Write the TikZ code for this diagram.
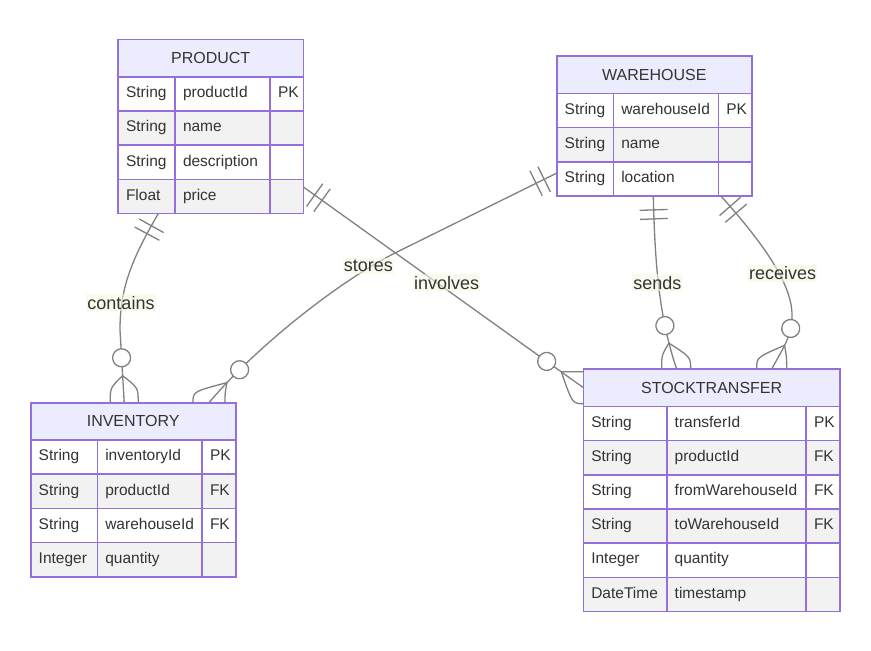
\documentclass[tikz,border=0pt]{standalone}
\usepackage{fontspec}
\setmainfont{Liberation Sans}
\usetikzlibrary{calc,decorations.markings}

\definecolor{erline}{HTML}{9370DB}
\definecolor{erhead}{HTML}{ECECFF}
\definecolor{row0}{HTML}{F2F2F2}
\definecolor{row1}{HTML}{FFFFFF}
\definecolor{txt}{HTML}{333333}
\definecolor{conn}{HTML}{808080}
\definecolor{lblbg}{HTML}{F3F8DF}

\tikzset{
  head/.style={draw=erline, fill=erhead, line width=1.6pt, outer sep=0pt, anchor=north west,
    minimum height=37.3pt, inner sep=0pt, text=txt, font=\fontsize{16}{19}\selectfont},
  cell/.style={draw=erline, line width=1.6pt, outer sep=0pt, anchor=north west,
    minimum height=34.2pt, text width=#1, align=left, inner xsep=8pt, inner ysep=0pt,
    text height=11pt, text depth=3.5pt, text=txt, font=\fontsize{15.5}{18}\selectfont},
  rel/.style={draw=conn, line width=1.3pt},
  lbl/.style={fill=lblbg, fill opacity=0.6, text opacity=1, text=txt, inner xsep=1pt,
    inner ysep=2pt, font=\fontsize{18}{21}\selectfont},
  exactlyone/.style={postaction={decorate, decoration={markings,
    mark=at position 14pt with {\draw[rel] (0pt,-14pt) -- (0pt,14pt);},
    mark=at position 23pt with {\draw[rel] (0pt,-14pt) -- (0pt,14pt);}}}},
  zeromany/.style={postaction={decorate, decoration={markings,
    mark=at position -45pt with {\draw[rel, fill=white] (0pt,0pt) circle (9pt);},
    mark=at position -27pt with {\coordinate (#1);}}}}
}

\begin{document}
\begin{tikzpicture}[x=1pt, y=-1pt]
  \useasboundingbox (0,0) rectangle (871,651);

  % PRODUCT
  \node[head, minimum width=185.3pt] (product) at (118,39.5) {PRODUCT};
  \foreach \ty/\nm/\ky [count=\i] in {String/productId/PK, String/name/{}, String/description/{}, Float/price/{}} {
    \pgfmathtruncatemacro\rw{mod(\i,2)}
    \node[cell=41pt, fill=row\rw] (pa\i) at (118,{76.8+34.2*(\i-1)}) {\ty};
    \node[cell=79pt, fill=row\rw] (pb\i) at (pa\i.north east) {\nm};
    \node[cell=17.3pt, fill=row\rw] (pc\i) at (pb\i.north east) {\ky};
  }

  % WAREHOUSE
  \node[head, minimum width=195.3pt] (warehouse) at (556.7,56) {WAREHOUSE};
  \foreach \ty/\nm/\ky [count=\i] in {String/warehouseId/PK, String/name/{}, String/location/{}} {
    \pgfmathtruncatemacro\rw{mod(\i,2)}
    \node[cell=40.6pt, fill=row\rw] (wa\i) at (556.7,{93.3+34.2*(\i-1)}) {\ty};
    \node[cell=89pt, fill=row\rw] (wb\i) at (wa\i.north east) {\nm};
    \node[cell=17.7pt, fill=row\rw] (wc\i) at (wb\i.north east) {\ky};
  }

  % INVENTORY
  \node[head, minimum width=205pt] (inventory) at (30.7,402.7) {INVENTORY};
  \foreach \ty/\nm/\ky [count=\i] in {String/inventoryId/PK, String/productId/FK, String/warehouseId/FK, Integer/quantity/{}} {
    \pgfmathtruncatemacro\rw{mod(\i,2)}
    \node[cell=50.6pt, fill=row\rw] (ia\i) at (30.7,{440+34.2*(\i-1)}) {\ty};
    \node[cell=88.7pt, fill=row\rw] (ib\i) at (ia\i.north east) {\nm};
    \node[cell=17.7pt, fill=row\rw] (ic\i) at (ib\i.north east) {\ky};
  }

  % STOCKTRANSFER
  \node[head, minimum width=256.7pt] (stocktransfer) at (583.3,369) {STOCKTRANSFER};
  \foreach \ty/\nm/\ky [count=\i] in {String/transferId/PK, String/productId/FK, String/fromWarehouseId/FK,
      String/toWarehouseId/FK, Integer/quantity/{}, DateTime/timestamp/{}} {
    \pgfmathtruncatemacro\rw{mod(\i,2)}
    \node[cell=67.4pt, fill=row\rw] (sa\i) at (583.3,{406.3+34.2*(\i-1)}) {\ty};
    \node[cell=123.3pt, fill=row\rw] (sb\i) at (sa\i.north east) {\nm};
    \node[cell=18pt, fill=row\rw] (sc\i) at (sb\i.north east) {\ky};
  }

  % relationship ends on the entities
  \coordinate (econtains) at ([xshift=-9pt]inventory.north);
  \coordinate (estores) at ([xshift=75.8pt]inventory.north);
  \coordinate (einvolves) at (stocktransfer.west);
  \coordinate (esends) at ([xshift=-35pt]stocktransfer.north);
  \coordinate (ereceives) at ([xshift=60pt]stocktransfer.north);

  % relationships
  \draw[rel, exactlyone, zeromany=jcontains] ([xshift=11.8pt]pa4.south)
    .. controls (130,262) and (120,290) .. (120,330) -- (econtains);
  \draw[rel, exactlyone, zeromany=jstores] ([yshift=5.7pt]wa3.west) -- (397,252)
    .. controls (337,282) and (253,350) .. (estores);
  \draw[rel, exactlyone, zeromany=jinvolves] ([yshift=9.6pt]pc4.east) -- (einvolves);
  \draw[rel, exactlyone, zeromany=jsends] ([xshift=-12.5pt]wb3.south)
    .. controls (655,270) and (660,320) .. (esends);
  \draw[rel, exactlyone, zeromany=jreceives] ([xshift=2.5pt]wc3.south west)
    .. controls (765,245) and (792,285) .. (792,315)
    .. controls (792,335) and (785,345) .. (ereceives);

  % crow's feet
  \draw[rel] ($(econtains)+(-14,0)$) .. controls ($(econtains |- jcontains)+(-14,12)$) .. (jcontains)
    .. controls ($(econtains |- jcontains)+(14,12)$) .. ($(econtains)+(14,0)$);
  \draw[rel] ($(estores)+(-16,0)$) .. controls ($(estores |- jstores)+(-16,9)$) .. (jstores)
    .. controls ($(estores |- jstores)+(16,10)$) .. ($(estores)+(16,0)$);
  \draw[rel] ($(einvolves)+(0,-16)$) .. controls ($(jinvolves |- einvolves)+(6,-16)$) .. (jinvolves)
    .. controls ($(jinvolves |- einvolves)+(11,16)$) .. ($(einvolves)+(0,16)$);
  \draw[rel] ($(esends)+(-15,0)$) .. controls ($(esends |- jsends)+(-15,12)$) .. (jsends)
    .. controls ($(esends |- jsends)+(14,14)$) .. ($(esends)+(14,0)$);
  \draw[rel] ($(ereceives)+(-15,0)$) .. controls ($(ereceives |- jreceives)+(-15,12)$) .. (jreceives)
    .. controls ($(ereceives |- jreceives)+(15,12)$) .. ($(ereceives)+(15,0)$);

  \node[lbl] (lcontains) at (121,302.7) {contains};
  \node[lbl] (lstores) at (368.3,266) {stores};
  \node[lbl] (linvolves) at (446.7,282.7) {involves};
  \node[lbl] (lsends) at (657.3,282.7) {sends};
  \node[lbl] (lreceives) at (782.7,273.3) {receives};
\end{tikzpicture}
\end{document}
